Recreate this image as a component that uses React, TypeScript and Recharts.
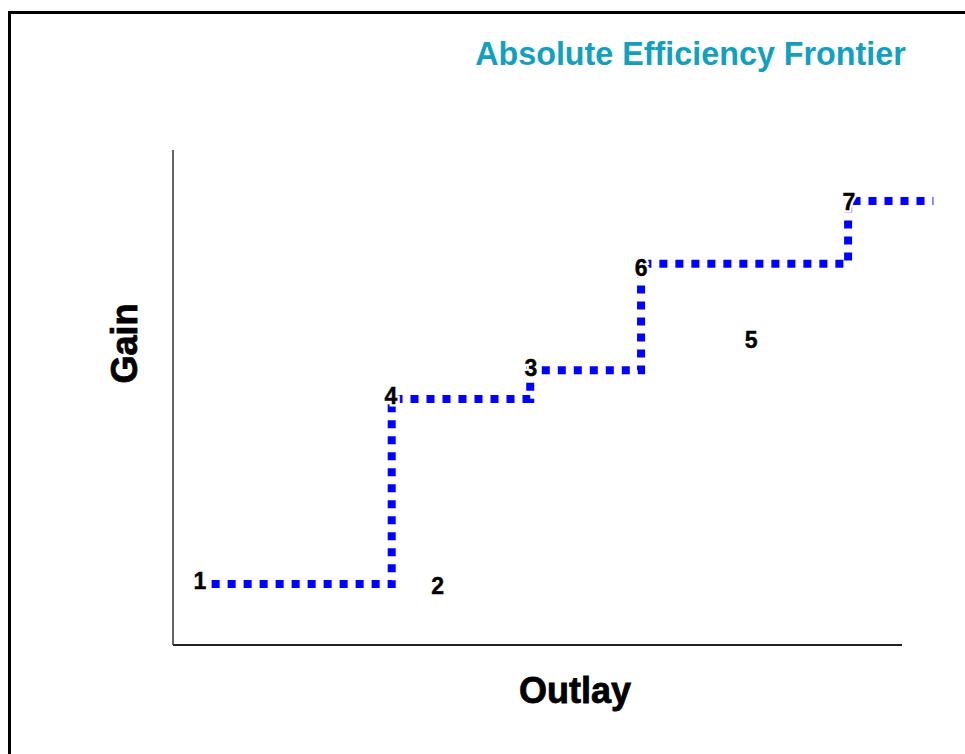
import { ComposedChart, Line, Scatter, XAxis, YAxis, ReferenceLine } from 'recharts';

// frontier corners (outlay, gain) – stepped line through projects 1, 4, 3, 6, 7
const frontierOutlay = [5.3, 30.0, 49.0, 64.2, 92.6, 104.3];
const frontierGain = [12.3, 49.7, 55.5, 77.0, 89.7, 89.7];

// project labels
const projectNames = ['1', '2', '3', '4', '5', '6', '7'];
const projectOutlay = [3.7, 36.3, 49.1, 29.9, 79.3, 64.2, 92.7];
const projectGain = [12.9, 11.9, 56.0, 50.3, 61.6, 76.2, 89.5];

const frontier = frontierOutlay.map((x, i) => ({ x, y: frontierGain[i] }));
const projects = projectNames.map((name, i) => ({ name, x: projectOutlay[i], y: projectGain[i] }));

const FONT = '"Liberation Sans", Arial, sans-serif';

function ProjectLabel(props: any) {
  const { cx, cy, payload } = props;
  return (
    <g>
      <text
        x={cx}
        y={cy}
        dy="0.36em"
        textAnchor="middle"
        fontFamily={FONT}
        fontWeight="bold"
        fontSize={23}
        fill="#fff"
        stroke="#fff"
        strokeWidth={5}
      >
        {payload.name}
      </text>
      <text
        x={cx}
        y={cy}
        dy="0.36em"
        textAnchor="middle"
        fontFamily={FONT}
        fontWeight="bold"
        fontSize={23}
        fill="#000"
        stroke="#000"
        strokeWidth={0.4}
      >
        {payload.name}
      </text>
    </g>
  );
}

export default function App() {
  return (
    <div
      style={{
        position: 'fixed',
        left: 8,
        top: 8,
        width: 957,
        height: 746,
        overflow: 'hidden',
        fontFamily: FONT,
        background: '#fff',
      }}
    >
      <div
        style={{
          position: 'absolute',
          left: 0,
          top: 3,
          width: 1000,
          height: 1000,
          border: '3px solid #000',
          boxSizing: 'border-box',
        }}
      />
      <div style={{ position: 'absolute', left: 0, top: 0 }}>
        <ComposedChart width={957} height={746} margin={{ top: 142, right: 26.5, bottom: 109, left: 165 }}>
          <XAxis type="number" dataKey="x" domain={[0, 105]} hide />
          <YAxis type="number" domain={[0, 100]} hide />
          <ReferenceLine
            segment={[
              { x: 0, y: 0 },
              { x: 0, y: 100 },
            ]}
            stroke="#666"
            strokeWidth={2}
          />
          <ReferenceLine
            segment={[
              { x: 0, y: 0 },
              { x: 100, y: 0 },
            ]}
            stroke="#222"
            strokeWidth={2}
          />
          <Line
            data={frontier}
            dataKey="y"
            type="stepAfter"
            stroke="#0000ff"
            strokeWidth={8}
            strokeDasharray="8 8"
            strokeLinecap="butt"
            dot={false}
            activeDot={false}
            isAnimationActive={false}
          />
          <Scatter data={projects} dataKey="y" shape={<ProjectLabel />} isAnimationActive={false} />
          <text x={682.5} y={57} textAnchor="middle" fontFamily={FONT} fontWeight="bold" fontSize={32.3} fill="#13a0c0">
            Absolute Efficiency Frontier
          </text>
          <text
            x={567}
            y={695}
            textAnchor="middle"
            fontFamily={FONT}
            fontWeight="bold"
            fontSize={36}
            fill="#000"
            stroke="#000"
            strokeWidth={0.8}
          >
            Outlay
          </text>
          <text
            x={129}
            y={335.5}
            transform="rotate(-90 129 335.5)"
            textAnchor="middle"
            fontFamily={FONT}
            fontWeight="bold"
            fontSize={36}
            fill="#000"
            stroke="#000"
            strokeWidth={0.8}
          >
            Gain
          </text>
        </ComposedChart>
      </div>
    </div>
  );
}
